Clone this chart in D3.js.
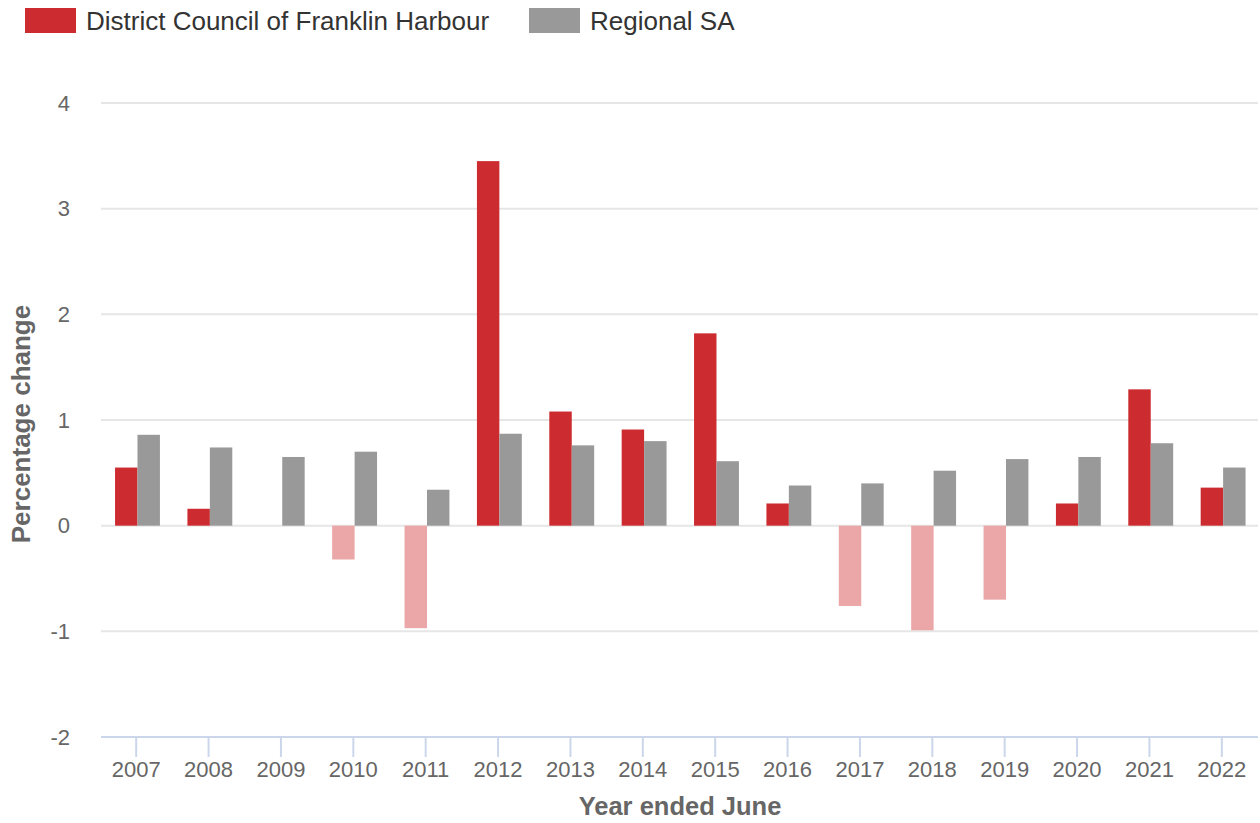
<!DOCTYPE html>
<html>
<head>
<meta charset="utf-8">
<script src="https://cdn.jsdelivr.net/npm/d3@7"></script>
<style>
  body { margin: 0; background: #fff; }
  svg { font-family: "Liberation Sans", Arial, sans-serif; }
</style>
</head>
<body>
<div id="main"></div>
<script>
var years = ['2007', '2008', '2009', '2010', '2011', '2012', '2013', '2014', '2015', '2016', '2017', '2018', '2019', '2020', '2021', '2022']
var franklin = [0.55, 0.16, 0, -0.32, -0.97, 3.45, 1.08, 0.91, 1.82, 0.21, -0.76, -0.99, -0.70, 0.21, 1.29, 0.36]
var regional = [0.86, 0.74, 0.65, 0.70, 0.34, 0.87, 0.76, 0.80, 0.61, 0.38, 0.40, 0.52, 0.63, 0.65, 0.78, 0.55]
var y_ticks = [-2, -1, 0, 1, 2, 3, 4]
var series_names = ['District Council of Franklin Harbour', 'Regional SA']

var w = 1260
var h = 823
var red = 'rgb(204,43,48)'
var red_light = 'rgb(235,166,167)'
var grey = 'rgb(153,153,153)'

var svg = d3.select('div#main').append('svg')
  .attr('width', w)
  .attr('height', h)

var scale_x = d3.scaleBand().domain(years).range([100, 1258])
  .paddingInner(0.38).paddingOuter(0.19)
var scale_inner = d3.scaleBand().domain([0, 1]).range([0, scale_x.bandwidth()])
var scale_y = d3.scaleLinear().domain([-2, 4]).range([737, 103])

// grid
svg.append('g').selectAll('line').data(y_ticks.filter(function (t) { return t !== -2 }))
  .enter().append('line')
  .attr('x1', 101).attr('x2', 1258)
  .attr('y1', function (d) { return scale_y(d) }).attr('y2', function (d) { return scale_y(d) })
  .attr('stroke', '#e6e6e6').attr('stroke-width', 2)

// y labels
svg.append('g').selectAll('text').data(y_ticks)
  .enter().append('text')
  .attr('x', 70)
  .attr('y', function (d) { return scale_y(d) })
  .attr('dy', '0.35em')
  .attr('text-anchor', 'end')
  .style('font-size', '22px')
  .attr('fill', '#666')
  .text(function (d) { return d })

// bars (group sits a touch right of the tick, as in the original)
var g = svg.append('g').attr('transform', 'translate(1.3,0)')
years.forEach(function (yr, i) {
  var x0 = scale_x(yr)
  var v = franklin[i]
  if (v !== 0) {
    g.append('rect')
      .attr('x', x0 + scale_inner(0))
      .attr('y', scale_y(Math.max(v, 0)))
      .attr('width', scale_inner.bandwidth())
      .attr('height', Math.abs(scale_y(v) - scale_y(0)))
      .attr('fill', v < 0 ? red_light : red)
  }
  var r = regional[i]
  g.append('rect')
    .attr('x', x0 + scale_inner(1))
    .attr('y', scale_y(Math.max(r, 0)))
    .attr('width', scale_inner.bandwidth())
    .attr('height', Math.abs(scale_y(r) - scale_y(0)))
    .attr('fill', grey)
})

// x axis
var ax = svg.append('g')
  .attr('transform', 'translate(0,' + scale_y(-2) + ')')
  .call(d3.axisBottom(scale_x).tickSize(20).tickSizeOuter(0).tickPadding(4))
ax.select('.domain').attr('stroke', '#ccd6eb').attr('stroke-width', 2)
  .attr('d', 'M101,0H1258')
ax.selectAll('.tick line').attr('stroke', '#ccd6eb').attr('stroke-width', 2)
ax.selectAll('.tick text')
  .style('font-size', '22px')
  .style('font-family', '"Liberation Sans", Arial, sans-serif')
  .attr('fill', '#666')

// axis titles
svg.append('text')
  .attr('x', 680).attr('y', 815)
  .attr('text-anchor', 'middle')
  .style('font-size', '25.5px').style('font-weight', 'bold')
  .attr('fill', '#666')
  .text('Year ended June')

svg.append('text')
  .attr('transform', 'translate(30,' + ((103 + 737) / 2 + 4) + ') rotate(-90)')
  .attr('text-anchor', 'middle')
  .style('font-size', '26px').style('font-weight', 'bold')
  .attr('fill', '#666')
  .text('Percentage change')

// legend
var legend_x = [25, 529]
var legend_colors = [red, grey]
series_names.forEach(function (name, i) {
  svg.append('rect')
    .attr('x', legend_x[i]).attr('y', 8)
    .attr('width', 51).attr('height', 25)
    .attr('fill', legend_colors[i])
  svg.append('text')
    .attr('x', legend_x[i] + 61).attr('y', 30)
    .style('font-size', '26px')
    .attr('fill', '#333')
    .text(name)
})
</script>
</body>
</html>
